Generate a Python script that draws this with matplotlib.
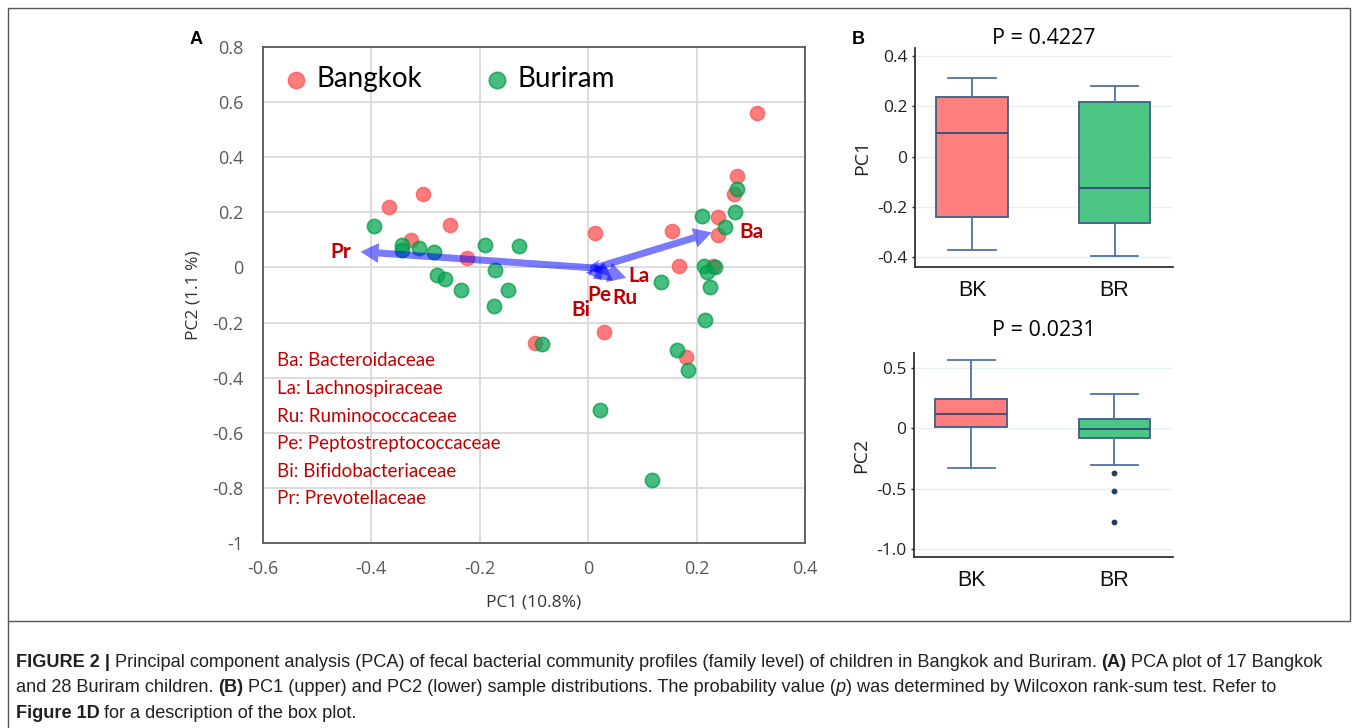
import numpy as np
import matplotlib
matplotlib.use("Agg")
import matplotlib.pyplot as plt
from matplotlib.patches import FancyArrow, Rectangle
from matplotlib.lines import Line2D
from matplotlib.transforms import IdentityTransform

# PCA scores (PC1, PC2) per child
bangkok_pc1 = [-0.304, -0.368, -0.255, -0.327, -0.224, 0.012, 0.154, 0.168, 0.029,
               -0.098, 0.311, 0.275, 0.269, 0.240, 0.240, 0.230, 0.181]
bangkok_pc2 = [0.268, 0.221, 0.154, 0.101, 0.036, 0.125, 0.131, 0.005, -0.234,
               -0.273, 0.562, 0.331, 0.267, 0.182, 0.116, 0.007, -0.326]
buriram_pc1 = [-0.395, -0.343, -0.343, -0.312, -0.284, -0.191, -0.127, -0.172, -0.279,
               -0.264, -0.234, -0.148, -0.174, 0.135, -0.086, 0.163, 0.275, 0.210,
               0.270, 0.253, 0.213, 0.234, 0.220, 0.225, 0.216, 0.185, 0.022, 0.118]
buriram_pc2 = [0.149, 0.082, 0.065, 0.072, 0.057, 0.082, 0.077, -0.009, -0.027,
               -0.041, -0.082, -0.081, -0.141, -0.054, -0.277, -0.301, 0.283, 0.188,
               0.202, 0.147, 0.007, 0.002, -0.016, -0.071, -0.189, -0.372, -0.518, -0.772]

# family loadings (arrow tips) and the shared arrow origin
families = ["Pr", "Ba", "La", "Ru", "Pe", "Bi"]
load_pc1 = [-0.420, 0.228, 0.070, 0.046, 0.024, 0.004]
load_pc2 = [0.057, 0.127, -0.038, -0.048, -0.046, 0.008]
origin = (0.012, -0.002)
family_names = ["Ba: Bacteroidaceae", "La: Lachnospiraceae", "Ru: Ruminococcaceae",
                "Pe: Peptostreptococcaceae", "Bi: Bifidobacteriaceae", "Pr: Prevotellaceae"]

x_ticks = [-0.6, -0.4, -0.2, 0, 0.2, 0.4]
x_ticklabels = ["-0.6", "-0.4", "-0.2", "0", "0.2", "0.4"]
y_ticks = [-1, -0.8, -0.6, -0.4, -0.2, 0, 0.2, 0.4, 0.6, 0.8]
y_ticklabels = ["-1", "-0.8", "-0.6", "-0.4", "-0.2", "0", "0.2", "0.4", "0.6", "0.8"]

# box plot summaries: whisker low, Q1, median, Q3, whisker high
groups = ["BK", "BR"]
pc1_box = [[-0.370, -0.239, 0.093, 0.235, 0.312],
           [-0.396, -0.264, -0.126, 0.216, 0.279]]
pc2_box = [[-0.331, 0.008, 0.116, 0.242, 0.564],
           [-0.303, -0.083, -0.006, 0.077, 0.281]]
pc2_fliers = [[], [-0.372, -0.521, -0.772]]
pc1_p = "P = 0.4227"
pc2_p = "P = 0.0231"

RED = "#FF5050"
GREEN = "#00A651"
DARKRED = "#C00000"
W, H = 1358, 728

fig = plt.figure(figsize=(W / 100, H / 100), dpi=100)

def px_box(l, t, r, b):
    return [l / W, 1 - b / H, (r - l) / W, (b - t) / H]

# ---------- panel A: PCA scatter ----------
ax = fig.add_axes(px_box(263, 47, 805, 543))
ax.set_xlim(-0.6, 0.4)
ax.set_ylim(-1, 0.8)
ax.set_xticks(x_ticks, x_ticklabels)
ax.set_yticks(y_ticks, y_ticklabels)
ax.grid(True, color="#d9d9d9", lw=1.3)
ax.set_axisbelow(True)
ax.tick_params(length=0, labelsize=13, labelcolor="#595959")
ax.tick_params(axis="x", pad=12)
ax.tick_params(axis="y", pad=14)
for lab in ax.get_xticklabels() + ax.get_yticklabels():
    lab.set_fontfamily("Open Sans")
for s in ax.spines.values():
    s.set_color("#595959")
    s.set_linewidth(1.3)
ax.set_xlabel("PC1 (10.8%)", fontsize=12.5, family="Open Sans", color="#333333", labelpad=12)
ax.set_ylabel("PC2 (1.1 %)", fontsize=12.5, family="Open Sans", color="#333333", labelpad=8)

ax.scatter(bangkok_pc1, bangkok_pc2, s=105, color=RED, alpha=0.75, edgecolors=RED,
           linewidths=1.0, label="Bangkok", zorder=3)
ax.scatter(buriram_pc1, buriram_pc2, s=105, color=GREEN, alpha=0.72, edgecolors="#009A40",
           linewidths=1.2, label="Buriram", zorder=3)

# loading arrows drawn in pixel space so the heads keep their shape
fig.canvas.draw()
o = ax.transData.transform(origin)
for fx, fy in zip(load_pc1, load_pc2):
    tip = ax.transData.transform((fx, fy))
    d = tip - o
    n = np.hypot(*d)
    hl = min(18.0, n)
    arr = FancyArrow(o[0], o[1], d[0], d[1], width=7, head_width=20, head_length=hl,
                     length_includes_head=True, transform=IdentityTransform(),
                     color=(0, 0, 1, 0.52), lw=0, zorder=4)
    ax.add_artist(arr)

label_pos = {"Pr": (-0.457, 0.055), "Ba": (0.301, 0.128), "La": (0.094, -0.030),
             "Ru": (0.068, -0.112), "Pe": (0.020, -0.100), "Bi": (-0.013, -0.155)}
for f in families:
    ax.text(*label_pos[f], f, color=DARKRED, fontsize=15, fontweight="bold",
            family="Lato", ha="center", va="center", zorder=5)

for i, name in enumerate(family_names):
    ypx = 361 + i * 27.6
    ax.text(0.026, (543 - ypx) / 496, name, transform=ax.transAxes, color=DARKRED,
            fontsize=13.5, family="Lato", ha="left", va="center")

leg = ax.legend(loc="upper left", bbox_to_anchor=(0.013, 0.995), ncol=2, frameon=False,
                prop={"family": "Lato", "size": 20}, handlelength=0.7, handletextpad=0.38,
                columnspacing=2.35, markerscale=1.15, borderaxespad=0.3, borderpad=0.3)

# ---------- panel B: box plots ----------
def box_panel(rect, summaries, fliers, ylim, ticks, ticklabels, ylabel):
    bx = fig.add_axes(rect)
    stats = []
    for g, (lo, q1, med, q3, hi), fl in zip(groups, summaries, fliers):
        stats.append(dict(label=g, whislo=lo, q1=q1, med=med, q3=q3, whishi=hi, fliers=fl))
    parts = bx.bxp(stats, positions=[0, 1], widths=0.5, capwidths=0.33, patch_artist=True,
                   boxprops=dict(edgecolor="#3d5f86", linewidth=1.3),
                   medianprops=dict(color="#2c4d74", linewidth=1.3),
                   whiskerprops=dict(color="#4f73a0", linewidth=1.3),
                   capprops=dict(color="#4f73a0", linewidth=1.3),
                   flierprops=dict(marker="o", markersize=3.2, markerfacecolor="#1f3f66",
                                   markeredgecolor="#1f3f66"))
    for patch, c in zip(parts["boxes"], ["#FF7F7F", "#4CC684"]):
        patch.set_facecolor(c)
    bx.set_xlim(-0.4, 1.41)
    bx.set_ylim(*ylim)
    bx.set_yticks(ticks, ticklabels)
    bx.grid(True, axis="y", color="#e8f0f3", lw=1.0)
    bx.set_axisbelow(True)
    for s in ["top", "right"]:
        bx.spines[s].set_visible(False)
    for s in ["left", "bottom"]:
        bx.spines[s].set_color("#333333")
        bx.spines[s].set_linewidth(1.3)
    bx.tick_params(axis="y", length=2.5, width=1, labelsize=12.5, pad=3, colors="#222222")
    bx.tick_params(axis="x", length=0, labelsize=15.5, pad=9, colors="#111111")
    for lab in bx.get_yticklabels():
        lab.set_fontfamily("Open Sans")
    for lab in bx.get_xticklabels():
        lab.set_fontfamily("Liberation Sans")
    bx.set_ylabel(ylabel, fontsize=14, family="Open Sans", color="#222222", labelpad=4)
    return bx

b1 = box_panel(px_box(915, 48, 1173, 267), pc1_box, [[], []], (-0.438, 0.431),
               [-0.4, -0.2, 0, 0.2, 0.4], ["-0.4", "-0.2", "0", "0.2", "0.4"], "PC1")
b2 = box_panel(px_box(914, 353, 1173, 557), pc2_box, pc2_fliers, (-1.066, 0.625),
               [-1.0, -0.5, 0, 0.5], ["-1.0", "-0.5", "0", "0.5"], "PC2")
fig.text(1044 / W, 1 - 38 / H, pc1_p, ha="center", va="center", fontsize=15.5, family="Open Sans")
fig.text(1044 / W, 1 - 331 / H, pc2_p, ha="center", va="center", fontsize=15.5, family="Open Sans")

fig.text(196 / W, 1 - 40 / H, "A", fontsize=13, fontweight="bold", family="Liberation Sans",
         ha="center", va="center")
fig.text(858 / W, 1 - 40 / H, "B", fontsize=13, fontweight="bold", family="Liberation Sans",
         ha="center", va="center")

# figure frame
fig.add_artist(Rectangle((8 / W, 1 - 621 / H), (1350 - 8) / W, (621 - 8) / H,
                         transform=fig.transFigure, fill=False, ec="#555555", lw=1))
fig.add_artist(Line2D([8 / W, 8 / W], [0, 1 - 621 / H], transform=fig.transFigure,
                      color="#555555", lw=1))

# ---------- caption ----------
cap_font = ["Liberation Sans Narrow", "Liberation Sans"]
cap_size = 13.05
caption = [
    [("FIGURE 2 |", "bold", "normal"),
     ("Principal component analysis (PCA) of fecal bacterial community profiles (family level) "
      "of children in Bangkok and Buriram.", "normal", "normal"),
     ("(A)", "bold", "normal"), ("PCA plot of 17 Bangkok", "normal", "normal")],
    [("and 28 Buriram children.", "normal", "normal"), ("(B)", "bold", "normal"),
     ("PC1 (upper) and PC2 (lower) sample distributions. The probability value (", "normal", "normal"),
     ("p", "normal", "italic"),
     (") was determined by Wilcoxon rank-sum test. Refer to", "normal", "normal")],
    [("Figure 1D", "bold", "normal"), ("for a description of the box plot.", "normal", "normal")],
]
no_gap_before = {"p", ") was determined by Wilcoxon rank-sum test. Refer to"}
for li, segs in enumerate(caption):
    bottom = 1 - (671 + li * 25.5) / H
    prev = None
    for s, wt, st in segs:
        if prev is None:
            prev = fig.text(16 / W, bottom, s, fontsize=cap_size, family=cap_font,
                            fontweight=wt, fontstyle=st, color="#231f20", ha="left", va="bottom")
        else:
            gap = 0 if s in no_gap_before else cap_size * 0.25
            prev = ax.annotate(s, xy=(1, 0), xycoords=prev, xytext=(gap, 0),
                               textcoords="offset points", fontsize=cap_size, family=cap_font,
                               fontweight=wt, fontstyle=st, color="#231f20",
                               ha="left", va="bottom", annotation_clip=False)

fig.savefig("out.png", dpi=100)
